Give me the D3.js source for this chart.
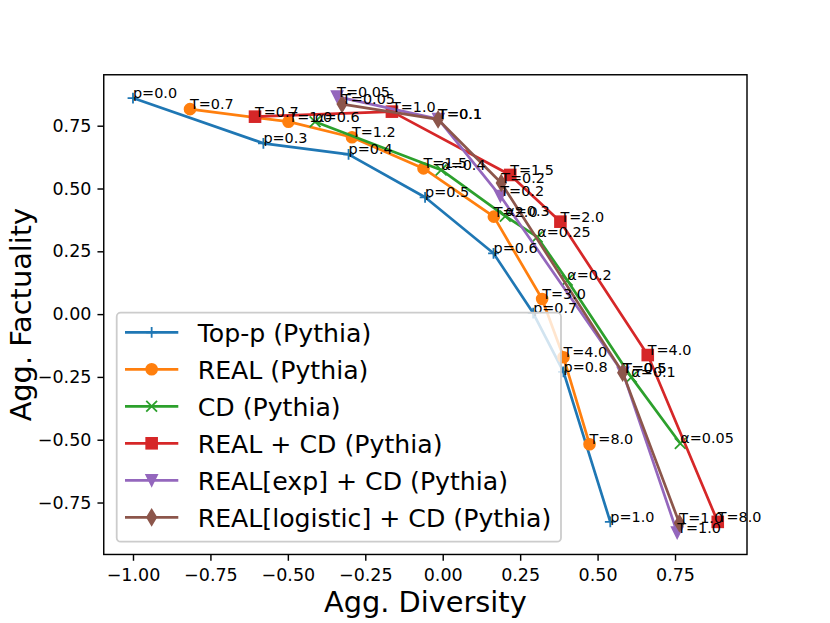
<!DOCTYPE html>
<html><head><meta charset="utf-8">
<script src="https://cdn.jsdelivr.net/npm/d3@7"></script>
<style>body{margin:0;background:#fff} text{font-family:"DejaVu Sans",sans-serif}</style>
</head><body><svg id="chart" width="830" height="623"></svg>
<script>
// ---- data ----
const topPX = [-1.0, -0.579, -0.304, -0.057, 0.164, 0.292, 0.390, 0.541];
const topPY = [0.860, 0.680, 0.636, 0.465, 0.242, 0.004, -0.230, -0.827];
const topPLabels = ["p=0.0","p=0.3","p=0.4","p=0.5","p=0.6","p=0.7","p=0.8","p=1.0"];

const realX = [-0.816, -0.498, -0.293, -0.062, 0.165, 0.321, 0.390, 0.474];
const realY = [0.816, 0.766, 0.704, 0.580, 0.388, 0.060, -0.172, -0.518];
const realLabels = ["T=0.7","T=1.0","T=1.2","T=1.5","T=2.0","T=3.0","T=4.0","T=8.0"];

const cdX = [-0.412, -0.005, 0.202, 0.305, 0.402, 0.609, 0.767];
const cdY = [0.766, 0.574, 0.390, 0.307, 0.135, -0.251, -0.515];
const cdLabels = ["α=0.6","α=0.4","α=0.3","α=0.25","α=0.2","α=0.1","α=0.05"];

const realCdX = [-0.606, -0.164, 0.218, 0.380, 0.662, 0.888];
const realCdY = [0.786, 0.806, 0.554, 0.368, -0.163, -0.827];
const realCdLabels = ["T=0.7","T=1.0","T=1.5","T=2.0","T=4.0","T=8.0"];

const expX = [-0.341, -0.014, 0.186, 0.582, 0.757];
const expY = [0.866, 0.776, 0.470, -0.234, -0.870];
const expLabels = ["T=0.05","T=0.1","T=0.2","T=0.5","T=1.0"];

const logX = [-0.325, -0.015, 0.189, 0.581, 0.764];
const logY = [0.836, 0.775, 0.522, -0.233, -0.832];
const logLabels = ["T=0.05","T=0.1","T=0.2","T=0.5","T=1.0"];

const seriesNames = ["Top-p (Pythia)","REAL (Pythia)","CD (Pythia)","REAL + CD (Pythia)","REAL[exp] + CD (Pythia)","REAL[logistic] + CD (Pythia)"];
const seriesColors = ["#1f77b4","#ff7f0e","#2ca02c","#d62728","#9467bd","#8c564b"];
const seriesMarkers = ["plus","circle","x","square","tridown","thindiamond"];
const xTicks = [-1.0,-0.75,-0.5,-0.25,0.0,0.25,0.5,0.75];
const yTicks = [-0.75,-0.5,-0.25,0.0,0.25,0.5,0.75];
const xTitle = "Agg. Diversity", yTitle = "Agg. Factuality";

const seriesData = [
  [topPX, topPY, topPLabels],[realX, realY, realLabels],[cdX, cdY, cdLabels],
  [realCdX, realCdY, realCdLabels],[expX, expY, expLabels],[logX, logY, logLabels]
].map((s,i)=>({name:seriesNames[i], color:seriesColors[i], marker:seriesMarkers[i],
  pts:s[0].map((v,j)=>({x:v, y:s[1][j], label:s[2][j]}))}));

// ---- layout ----
const m = {left:103.75, right:747, top:74.76, bottom:554.47};
const svg = d3.select("#chart");
svg.append("rect").attr("width",830).attr("height",623).attr("fill","#fff");

const allX = seriesData.flatMap(s=>s.pts.map(p=>p.x));
const allY = seriesData.flatMap(s=>s.pts.map(p=>p.y));
const [xa,xb] = d3.extent(allX), [ya,yb] = d3.extent(allY);
const px = (xb-xa)*0.05, py = (yb-ya)*0.05;
const x = d3.scaleLinear().domain([xa-px, xb+px]).range([m.left, m.right]);
const y = d3.scaleLinear().domain([ya-py, yb+py]).range([m.bottom, m.top]);

const MS = 10.8, EW = 1.8, LW = 2.7;
function drawMarker(g, type, color, cx, cy){
  const h = MS/2;
  if(type==="plus"){
    g.append("path").attr("d",`M${cx-h},${cy}H${cx+h}M${cx},${cy-h}V${cy+h}`)
     .attr("stroke",color).attr("stroke-width",EW).attr("fill","none");
  } else if(type==="x"){
    g.append("path").attr("d",`M${cx-h},${cy-h}L${cx+h},${cy+h}M${cx-h},${cy+h}L${cx+h},${cy-h}`)
     .attr("stroke",color).attr("stroke-width",EW).attr("fill","none");
  } else if(type==="circle"){
    g.append("circle").attr("cx",cx).attr("cy",cy).attr("r",h)
     .attr("fill",color).attr("stroke",color).attr("stroke-width",EW);
  } else if(type==="square"){
    g.append("rect").attr("x",cx-h).attr("y",cy-h).attr("width",MS).attr("height",MS)
     .attr("fill",color).attr("stroke",color).attr("stroke-width",EW).attr("stroke-linejoin","miter");
  } else if(type==="tridown"){
    g.append("path").attr("d",`M${cx},${cy+h}L${cx-h},${cy-h}L${cx+h},${cy-h}Z`)
     .attr("fill",color).attr("stroke",color).attr("stroke-width",EW).attr("stroke-linejoin","miter");
  } else if(type==="thindiamond"){
    const dh = MS*Math.SQRT1_2, dw = dh*0.6;
    g.append("path").attr("d",`M${cx},${cy-dh}L${cx+dw},${cy}L${cx},${cy+dh}L${cx-dw},${cy}Z`)
     .attr("fill",color).attr("stroke",color).attr("stroke-width",EW).attr("stroke-linejoin","miter");
  }
}

// ---- axes ----
const xAxis = d3.axisBottom(x).tickValues(xTicks).tickFormat(d3.format(".2f")).tickSizeOuter(0).tickSize(6.3).tickPadding(8.3);
const yAxis = d3.axisLeft(y).tickValues(yTicks).tickFormat(d3.format(".2f")).tickSizeOuter(0).tickSize(6.3).tickPadding(6);
const gx = svg.append("g").attr("transform",`translate(0,${m.bottom})`).call(xAxis);
const gy = svg.append("g").attr("transform",`translate(${m.left},0)`).call(yAxis);
[gx,gy].forEach(g=>{
  g.select(".domain").remove();
  g.selectAll(".tick line").attr("stroke","#000").attr("stroke-width",1.44);
  g.selectAll(".tick text").attr("font-size","17.5px").attr("fill","#000").attr("font-family","DejaVu Sans");
});

// ---- series ----
const lineGen = d3.line().x(d=>x(d.x)).y(d=>y(d.y));
const plot = svg.append("g");
seriesData.forEach(s=>{
  const g = plot.append("g");
  g.append("path").datum(s.pts).attr("d",lineGen).attr("fill","none")
   .attr("stroke",s.color).attr("stroke-width",LW).attr("stroke-linejoin","round");
  s.pts.forEach(p=>drawMarker(g, s.marker, s.color, x(p.x), y(p.y)));
});
const labelsG = svg.append("g");
seriesData.forEach(s=>{
  s.pts.forEach(p=>{
    labelsG.append("text").attr("x",x(p.x)).attr("y",y(p.y)).attr("font-size","14.4px")
      .attr("fill","#000").text(p.label);
  });
});

// frame
svg.append("rect").attr("x",m.left).attr("y",m.top).attr("width",m.right-m.left).attr("height",m.bottom-m.top)
  .attr("fill","none").attr("stroke","#000").attr("stroke-width",1.44);

// axis titles
svg.append("text").attr("x",(m.left+m.right)/2).attr("y",612).attr("text-anchor","middle")
  .attr("font-size","28.8px").attr("fill","#000").text(xTitle);
svg.append("text").attr("transform",`translate(31,${(m.top+m.bottom)/2}) rotate(-90)`).attr("text-anchor","middle")
  .attr("font-size","28.8px").attr("fill","#000").text(yTitle);

// ---- legend ----
const lg = svg.append("g");
const L = {x0:116.7, y0:312.7, x1:561, y1:541.7, row0:332.3, rowStep:37.0, hx0:125, hx1:178.3, tx:197.7};
lg.append("rect").attr("x",L.x0).attr("y",L.y0).attr("width",L.x1-L.x0).attr("height",L.y1-L.y0)
  .attr("rx",4).attr("ry",4).attr("fill","#fff").attr("fill-opacity",0.8)
  .attr("stroke","#cccccc").attr("stroke-width",1.8);
seriesData.forEach((s,i)=>{
  const ry = L.row0 + i*L.rowStep;
  lg.append("line").attr("x1",L.hx0).attr("x2",L.hx1).attr("y1",ry).attr("y2",ry)
    .attr("stroke",s.color).attr("stroke-width",LW);
  drawMarker(lg, s.marker, s.color, (L.hx0+L.hx1)/2, ry);
  lg.append("text").attr("x",L.tx).attr("y",ry+9.3).attr("font-size","25.2px").attr("fill","#000").text(s.name);
});
</script></body></html>
